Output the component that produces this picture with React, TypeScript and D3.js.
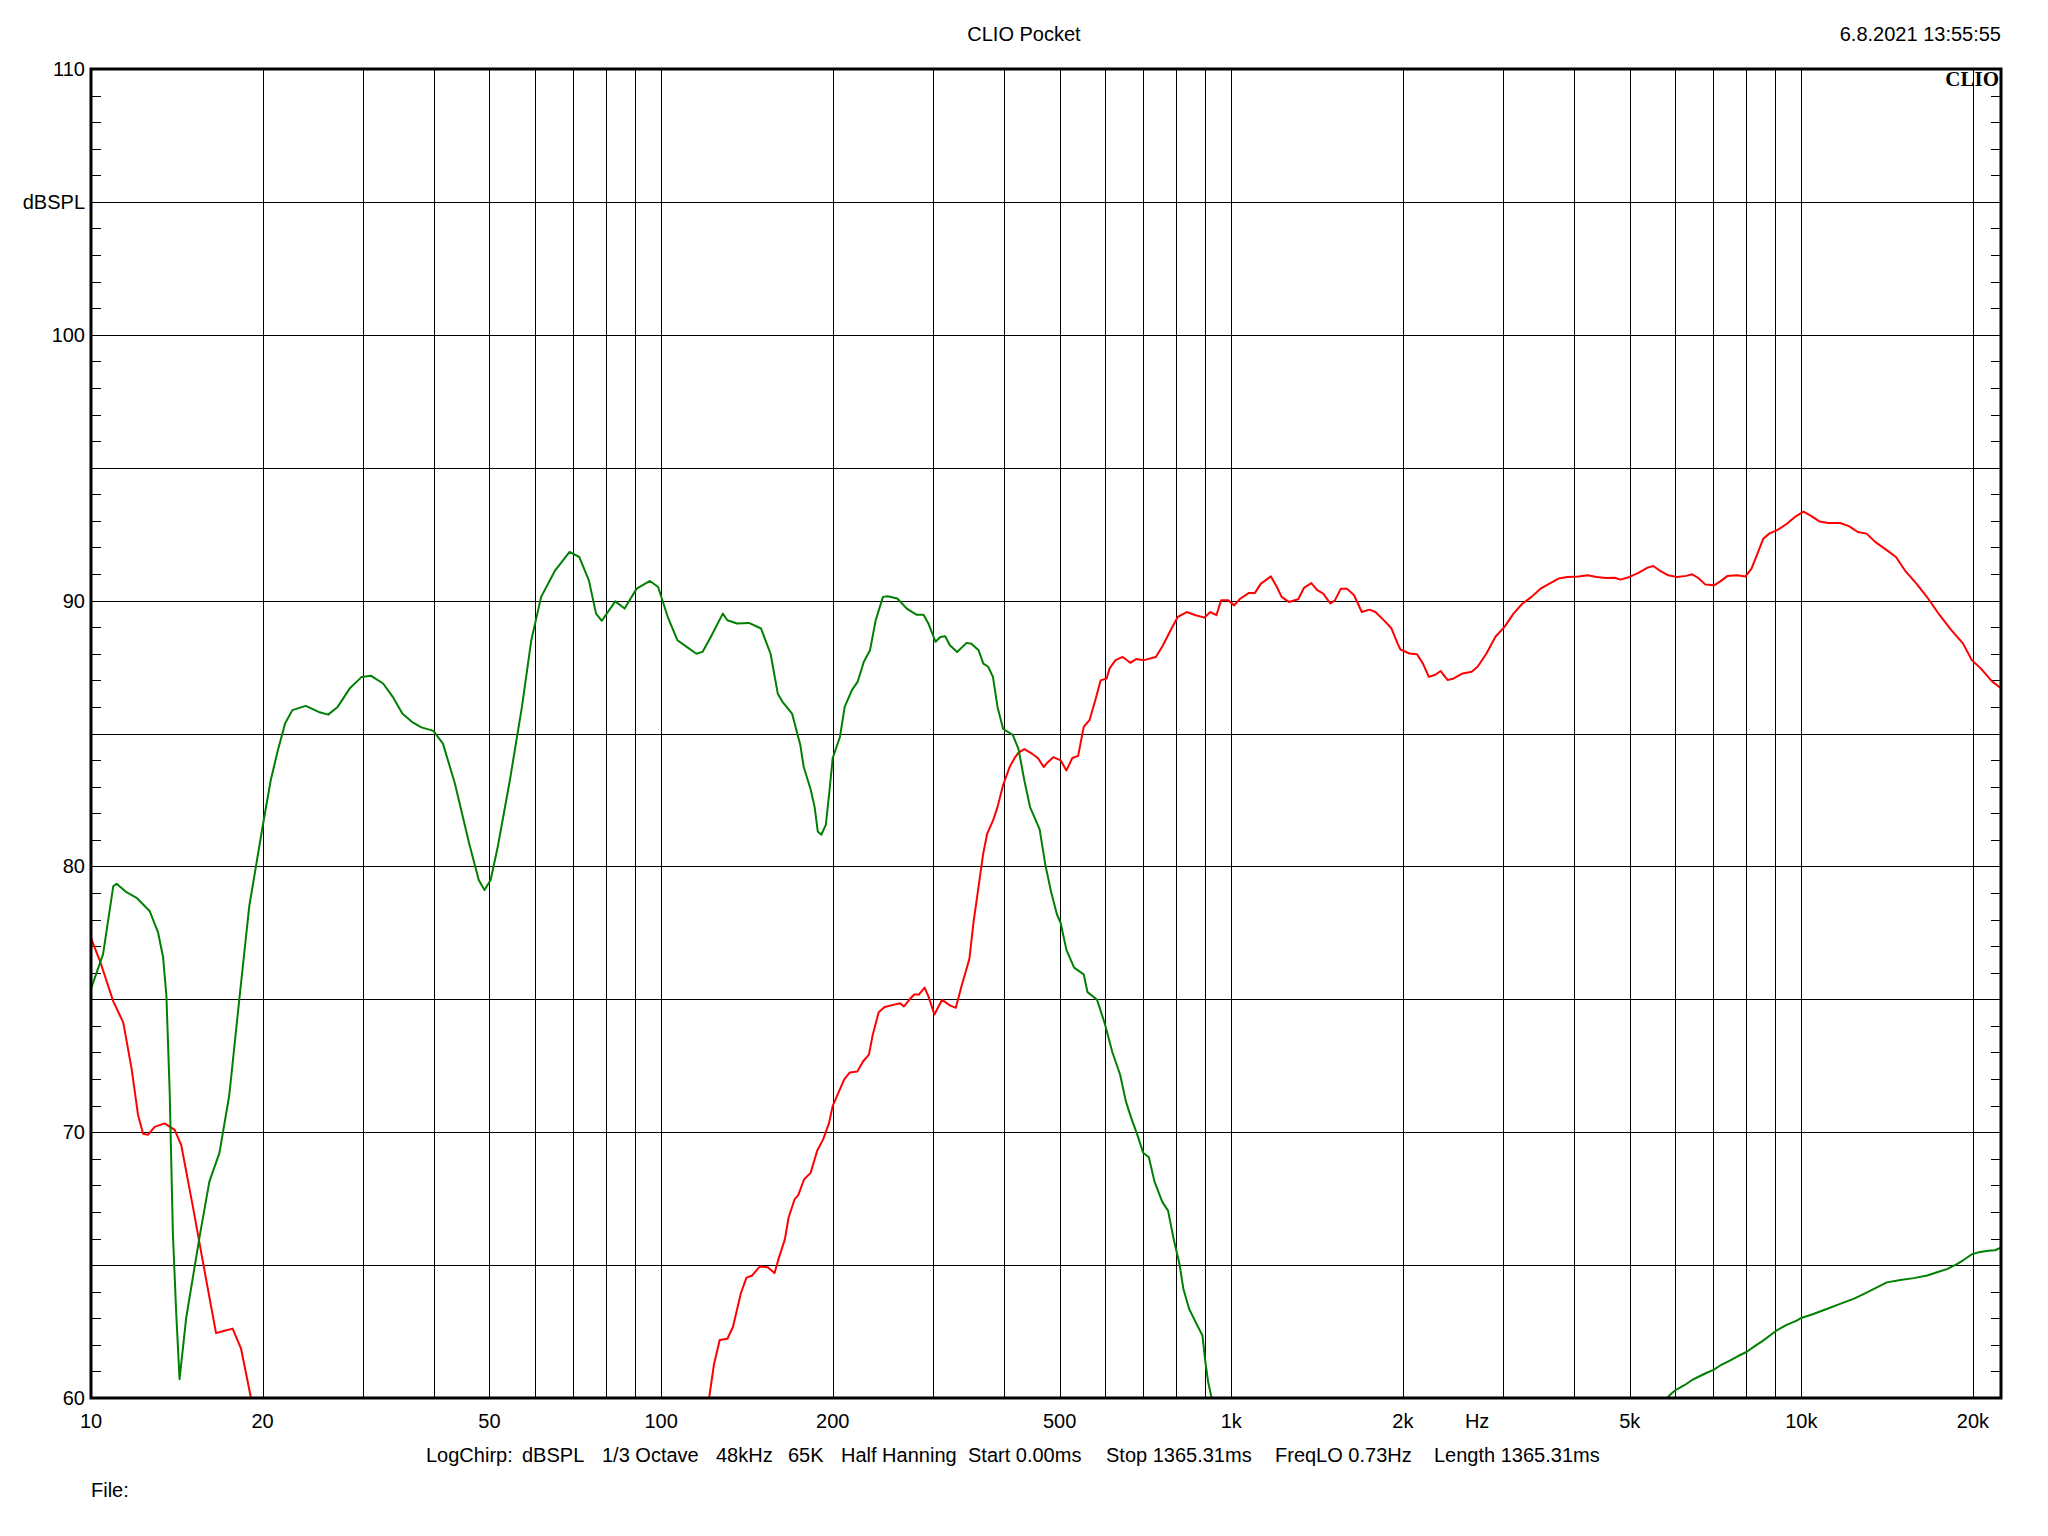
import React from 'react';
import * as d3 from 'd3';

// Green trace (low range, until it falls off the bottom of the chart)
const greenFreq = [
  10, 10.5, 10.94, 11.09, 11.54, 12.02, 12.68, 13.11, 13.38, 13.56, 13.74, 13.92, 14.11, 14.3, 14.69,
  15.5, 16.13, 16.8, 17.48, 18.2, 18.95, 20, 20.67, 21.27, 21.9, 22.55, 23.8, 25.08, 26.06, 27.08,
  28.42, 29.84, 31, 32.54, 33.83, 35.16, 36.54, 37.98, 39.86, 41.43, 43.48, 46.06, 47.88, 49, 50.23,
  51.7, 54.3, 57, 59.2, 61.6, 65.2, 69.1, 71.86, 74.7, 76.9, 78.7, 83.1, 86.3, 90.6, 95.6, 98.8,
  102.7, 106.8, 110.9, 115.3, 118.2, 122.2, 128.3, 130.7, 135.9, 142.6, 149.7, 155.6, 160.2, 163.3,
  169.7, 175.4, 177.9, 182.9, 185.9, 188.3, 191, 194.5, 197.5, 200, 205.9, 209.9, 216.1, 221.1,
  226.7, 232.5, 237.9, 245, 249.7, 259.6, 269.8, 280.4, 288.6, 294.3, 303, 308.9, 315, 321, 330.5,
  343.5, 350.2, 360.5, 367.5, 374.7, 382, 389.1, 398.1, 413.9, 423.6, 433.6, 443.8, 461.3, 472.1,
  483.2, 494.6, 502.1, 514, 530.2, 551.1, 559.7, 581.8, 600, 619, 638.5, 653.5, 668.8, 684.5, 700.6,
  717, 733.6, 757, 774.8, 792.9, 811.6, 824.2, 843.5, 870, 890.4, 900, 911.3, 922.7, 935,
];
const greenDb = [
  75.4, 76.7, 79.25, 79.35, 79.03, 78.82, 78.31, 77.52, 76.58, 75.14, 71.53, 66.19, 63.16, 60.71, 63.02,
  66.05, 68.14, 69.22, 71.39, 74.99, 78.5, 81.5, 83.25, 84.37, 85.38, 85.88, 86.04, 85.81, 85.71, 86.0,
  86.69, 87.13, 87.17, 86.88, 86.38, 85.75, 85.44, 85.23, 85.1, 84.62, 83.12, 80.86, 79.49, 79.11, 79.49,
  80.74, 83.25, 86.0, 88.51, 90.14, 91.14, 91.83, 91.64, 90.76, 89.51, 89.24, 89.97, 89.7, 90.45, 90.74, 90.51,
  89.39, 88.51, 88.26, 88.0, 88.07, 88.63, 89.51, 89.26, 89.14, 89.16, 88.95, 88.0, 86.5, 86.19,
  85.75, 84.58, 83.74, 82.9, 82.23, 81.31, 81.19, 81.56, 82.9, 84.08, 84.87, 86.0, 86.63, 86.94,
  87.69, 88.13, 89.26, 90.14, 90.16, 90.08, 89.7, 89.47, 89.47, 89.14, 88.45, 88.63, 88.66, 88.32, 88.07,
  88.41, 88.38, 88.13, 87.63, 87.51, 87.13, 86.0, 85.17, 84.95, 84.41, 83.24, 82.23, 81.39, 80.05,
  79.04, 78.2, 77.87, 76.86, 76.19, 75.94, 75.27, 74.98, 74.09, 73.0, 72.16, 71.16, 70.49, 69.9, 69.23,
  69.06, 68.14, 67.38, 67.05, 65.96, 65.03, 64.11, 63.36, 62.77, 62.35, 61.43, 60.59, 60.05, 59.4,
];

// Green trace coming back in at the top end
const greenHighFreq = [
  5700, 5816, 5912, 6029, 6236, 6414, 6588, 6812, 7013, 7240, 7490, 7746, 8012, 8286, 8571, 8808,
  9050, 9424, 9813, 10000, 10498, 11081, 11695, 12346, 12857, 13573, 14130, 14918, 15747, 16624,
  17302, 18010, 18747, 19255, 19913, 20450, 21280, 21859, 22400,
];
const greenHighDb = [
  59.85, 60.0, 60.16, 60.31, 60.48, 60.66, 60.79, 60.94, 61.06, 61.25, 61.41, 61.58, 61.73, 61.95, 62.16, 62.35,
  62.54, 62.75, 62.91, 63.01, 63.16, 63.35, 63.54, 63.73, 63.91, 64.16, 64.35, 64.44, 64.51, 64.61,
  64.73, 64.85, 65.04, 65.19, 65.41, 65.48, 65.54, 65.56, 65.66,
];

// Red trace, bottom end
const redLowFreq = [
  10, 10.37, 10.94, 11.39, 11.78, 12.09, 12.34, 12.59, 12.93, 13.46, 14.02, 14.4, 15.09, 15.92,
  16.57, 17.02, 17.72, 18.33, 19.08, 19.5,
];
const redLowDb = [
  77.3, 76.44, 74.92, 74.13, 72.4, 70.66, 69.94, 69.9, 70.2, 70.33, 70.09, 69.51, 67.2, 64.46,
  62.44, 62.51, 62.61, 61.86, 60.0, 59.0,
];

// Red trace, main part
const redFreq = [
  119.5, 121.5, 123.8, 126.7, 130.7, 133.7, 138, 141.2, 144.5, 149, 153.8, 158.1, 161, 164.8, 167.4,
  171.4, 174, 178.1, 182.9, 187.9, 192.4, 196.9, 200, 204.7, 209.5, 214.3, 220.9, 226.2, 231.5, 235.1,
  240.8, 246.6, 256.4, 262.6, 266.7, 273.4, 278, 283.2, 289.8, 294.5, 301.5, 311.1, 321.1, 328.8,
  336.7, 342, 347.4, 353, 360.3, 367.2, 373.1, 382.2, 389.1, 398.1, 408.6, 417, 423.6, 433.6, 447.3,
  458, 469, 476.3, 487.5, 502.1, 514, 526.4, 538.9, 551.1, 564.2, 577.7, 590.2, 604.6, 612, 626.7,
  645, 665.4, 681, 703.1, 737.6, 759.2, 777.6, 806, 835.6, 866.3, 897.6, 919, 941.9, 960, 988, 1012,
  1036.6, 1074.5, 1100.6, 1127.4, 1154.8, 1174, 1202.6, 1225.8, 1261.9, 1311, 1342.7, 1382.2, 1415.7,
  1450.3, 1492.4, 1520, 1557, 1595.6, 1642.4, 1694.6, 1747.9, 1790.4, 1864.6, 1910.8, 1957.5, 1980.9,
  2053.6, 2117.8, 2169.1, 2221.6, 2275.4, 2330.3, 2397.6, 2456, 2546.8, 2641.2, 2705, 2803.5, 2907.5,
  3015.4, 3127.1, 3242.9, 3363.2, 3487.6, 3616.8, 3750.8, 3889.8, 4067, 4218, 4374, 4536, 4704, 4817,
  4996, 5181, 5373, 5501, 5634, 5842, 6059, 6283, 6434, 6589, 6783, 7044, 7250, 7425, 7699, 7983,
  8177, 8374, 8576, 8783, 9103, 9435, 9778, 10088, 10381, 10759, 11151, 11695, 12120, 12561, 13018,
  13492, 14140, 14655, 15189, 15920, 16685, 17487, 18328, 19209, 19910, 20636, 21628, 22400,
];
const redDb = [
  59.6, 60.05, 61.26, 62.18, 62.23, 62.68, 63.94, 64.53, 64.61, 64.95, 64.92, 64.7, 65.29, 65.96, 66.8,
  67.47, 67.63, 68.22, 68.47, 69.31, 69.73, 70.32, 70.99, 71.49, 71.99, 72.25, 72.28, 72.67, 72.92, 73.67,
  74.51, 74.71, 74.8, 74.85, 74.73, 75.02, 75.18, 75.18, 75.44, 75.1, 74.43, 74.98, 74.77, 74.68,
  75.52, 76.02, 76.53, 77.87, 79.21, 80.47, 81.22, 81.73, 82.23, 83.07, 83.74, 84.08, 84.28, 84.41, 84.24,
  84.08, 83.74, 83.91, 84.11, 83.99, 83.61, 84.08, 84.16, 85.25, 85.5, 86.26, 87.0, 87.07, 87.45, 87.76,
  87.88, 87.66, 87.8, 87.76, 87.88, 88.32, 88.76, 89.39, 89.57, 89.45, 89.36, 89.57, 89.45, 90.01, 90.01, 89.82,
  90.07, 90.29, 90.29, 90.64, 90.8, 90.91, 90.51, 90.14, 89.95, 90.05, 90.49, 90.66, 90.39,
  90.26, 89.89, 90.01, 90.45, 90.45, 90.2, 89.57, 89.66, 89.57, 89.2, 88.95, 88.39, 88.16,
  88.01, 87.98, 87.63, 87.13, 87.2, 87.35, 87.01, 87.07, 87.26, 87.32, 87.51, 88.01, 88.64,
  89.01, 89.51, 89.89, 90.14, 90.45, 90.64, 90.83, 90.89, 90.91, 90.95, 90.89, 90.85, 90.86, 90.79,
  90.89, 91.04, 91.24, 91.3, 91.14, 90.95, 90.89, 90.93, 90.99, 90.86, 90.61, 90.58, 90.76, 90.93, 90.95, 90.91,
  91.2, 91.76, 92.33, 92.52, 92.67, 92.89, 93.17, 93.35, 93.2, 92.98, 92.92, 92.92, 92.8, 92.58, 92.52,
  92.2, 91.89, 91.64, 91.14, 90.64, 90.08, 89.45, 88.89, 88.39, 87.76, 87.45, 86.95, 86.7,
];

const xTickValues = [10, 20, 50, 100, 200, 500, 1000, 2000, 5000, 10000, 20000];
const xTickLabels = ['10', '20', '50', '100', '200', '500', '1k', '2k', '5k', '10k', '20k'];
const yTickValues = [110, 100, 90, 80, 70, 60];
const footerItems = [
  'LogChirp:', 'dBSPL', '1/3 Octave', '48kHz', '65K', 'Half Hanning',
  'Start 0.00ms', 'Stop 1365.31ms', 'FreqLO 0.73Hz', 'Length 1365.31ms',
];
const footerX = [426, 522, 602, 716, 788, 841, 968, 1106, 1275, 1434];

const W = 2048;
const H = 1536;
const left = 91;
const right = 2001;
const top = 69;
const bottom = 1398;
const font = '"Liberation Sans", Arial, sans-serif';

const x = d3.scaleLog().domain([10, 22400]).range([left, right]);
const y = d3.scaleLinear().domain([60, 110]).range([bottom, top]);

const line = d3.line<[number, number]>()
  .x(d => x(d[0]))
  .y(d => y(d[1]));

const zip = (f: number[], v: number[]) => f.map((d, i) => [d, v[i]] as [number, number]);

export default function App() {
  // vertical grid: 1..9 per decade
  const vGrid: number[] = [];
  [10, 100, 1000, 10000].forEach(dec => {
    for (let m = 1; m <= 9; m++) {
      const f = dec * m;
      if (f > 10 && f < 22400) vGrid.push(f);
    }
  });
  const hGrid = d3.range(65, 110, 5);
  const minor = d3.range(61, 110).filter(v => v % 5 !== 0);

  return (
    <div style={{ position: 'fixed', left: 0, top: 0 }}>
      <svg width={W} height={H} style={{ display: 'block', background: '#fff' }}>
        <defs>
          <clipPath id="plot">
            <rect x={left} y={top} width={right - left} height={bottom - top} />
          </clipPath>
        </defs>
        <rect x={0} y={0} width={W} height={H} fill="#fff" />

        {vGrid.map(f => (
          <line key={'v' + f} x1={Math.round(x(f)) + 0.5} x2={Math.round(x(f)) + 0.5} y1={top} y2={bottom}
            stroke="#000" strokeWidth={1} />
        ))}
        {hGrid.map(v => (
          <line key={'h' + v} x1={left} x2={right} y1={Math.round(y(v)) + 0.5} y2={Math.round(y(v)) + 0.5}
            stroke="#000" strokeWidth={1} />
        ))}
        {minor.map(v => (
          <g key={'m' + v}>
            <line x1={left} x2={left + 10} y1={Math.round(y(v)) + 0.5} y2={Math.round(y(v)) + 0.5} stroke="#000" />
            <line x1={right - 10} x2={right} y1={Math.round(y(v)) + 0.5} y2={Math.round(y(v)) + 0.5} stroke="#000" />
          </g>
        ))}

        <g clipPath="url(#plot)" fill="none" strokeWidth={2} strokeLinejoin="round">
          <path d={line(zip(redLowFreq, redLowDb)) || ''} stroke="#ff0000" />
          <path d={line(zip(redFreq, redDb)) || ''} stroke="#ff0000" />
          <path d={line(zip(greenFreq, greenDb)) || ''} stroke="#008000" />
          <path d={line(zip(greenHighFreq, greenHighDb)) || ''} stroke="#008000" />
        </g>

        <rect x={left} y={top} width={right - left} height={bottom - top} fill="none" stroke="#000" strokeWidth={3} />

        <g fontFamily={font} fontSize={20} fill="#000">
          {yTickValues.map(v => (
            <text key={'y' + v} x={85} y={y(v) + 7} textAnchor="end">{v}</text>
          ))}
          <text x={85} y={y(105) + 7} textAnchor="end">dBSPL</text>
          {xTickValues.map((v, i) => (
            <text key={'x' + v} x={x(v)} y={1428} textAnchor="middle">{xTickLabels[i]}</text>
          ))}
          <text x={x(2700)} y={1428} textAnchor="middle">Hz</text>
          {footerItems.map((t, i) => (
            <text key={'f' + i} x={footerX[i]} y={1462}>{t}</text>
          ))}
          <text x={91} y={1497}>File:</text>
          <text x={1024} y={41} textAnchor="middle">CLIO Pocket</text>
          <text x={2001} y={41} textAnchor="end">6.8.2021 13:55:55</text>
        </g>
        <text x={1999} y={86} textAnchor="end" fontFamily='"Liberation Serif", "Times New Roman", serif'
          fontWeight="bold" fontSize={21} fill="#000">CLIO</text>
      </svg>
    </div>
  );
}
